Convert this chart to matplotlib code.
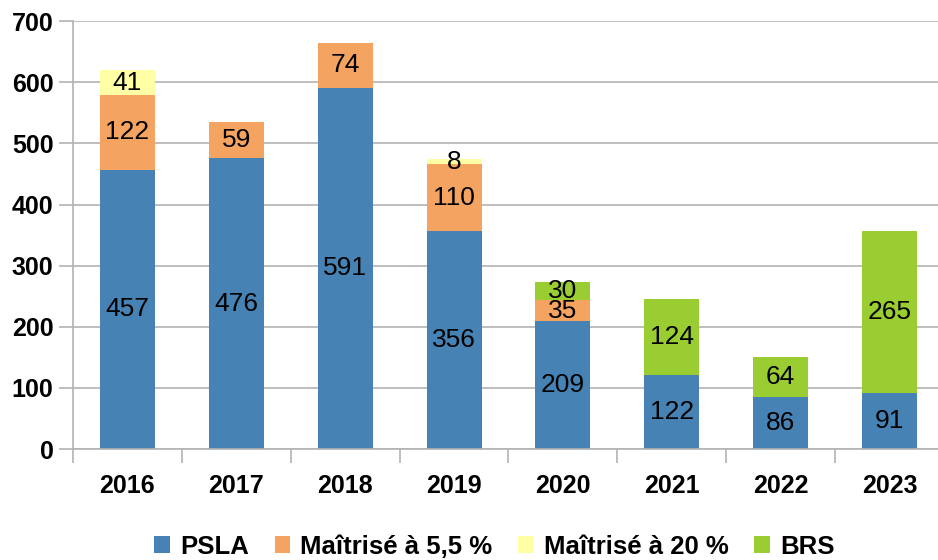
import matplotlib.pyplot as plt
import numpy as np

plt.rcParams['font.family'] = ['Liberation Sans', 'DejaVu Sans']

annees = ['2016', '2017', '2018', '2019', '2020', '2021', '2022', '2023']
psla = [457, 476, 591, 356, 209, 122, 86, 91]
maitrise_55 = [122, 59, 74, 110, 35, 0, 0, 0]
maitrise_20 = [41, 0, 0, 8, 0, 0, 0, 0]
brs = [0, 0, 0, 0, 30, 124, 64, 265]

series = [
    ('PSLA', psla, '#4682b4'),
    ('Maîtrisé à 5,5 %', maitrise_55, '#f4a460'),
    ('Maîtrisé à 20 %', maitrise_20, '#ffffa6'),
    ('BRS', brs, '#9acd32'),
]

fig = plt.figure(figsize=(9.38, 5.6), dpi=100)
ax = fig.add_axes([0.0778, 0.198, 0.9286, 0.7643])

x = np.arange(len(annees))
bas = np.zeros(len(annees))
for nom, vals, col in series:
    vals = np.array(vals, dtype=float)
    ax.bar(x, vals, 0.505, bottom=bas, color=col, label=nom, zorder=2)
    for xi, v, b in zip(x, vals, bas):
        if v > 0:
            ax.text(xi, b + v / 2, str(int(v)), ha='center', va='center',
                    fontsize=19, color='black', zorder=3)
    bas += vals

ax.set_xlim(-0.5, 7.5)
ax.set_ylim(0, 700)
ax.set_yticks(range(0, 701, 100))
ax.set_xticks(x)
ax.set_xticklabels(annees, fontsize=18, fontweight='bold')
ax.set_xticks(np.arange(-0.5, 8, 1), minor=True)
ax.tick_params(axis='x', which='major', length=0, pad=18)
ax.tick_params(axis='x', which='minor', length=10, color='#b3b3b3', width=1.2)
ax.tick_params(axis='y', length=10, color='#b3b3b3', width=1.2, labelsize=18, pad=4)
for lab in ax.get_yticklabels():
    lab.set_fontweight('bold')

ax.grid(axis='y', color='#b3b3b3', linewidth=1.2, zorder=0)
ax.set_axisbelow(True)
for s in ['top', 'right']:
    ax.spines[s].set_visible(False)
for s in ['left', 'bottom']:
    ax.spines[s].set_color('#b3b3b3')
    ax.spines[s].set_linewidth(1.2)

fig.legend(loc='center', bbox_to_anchor=(0.527, 0.024), ncol=4, frameon=False,
           prop={'size': 18.5, 'weight': 'bold'}, handlelength=0.6,
           handleheight=0.6, handletextpad=0.4, columnspacing=1.0)

fig.savefig('out.png', dpi=100)
